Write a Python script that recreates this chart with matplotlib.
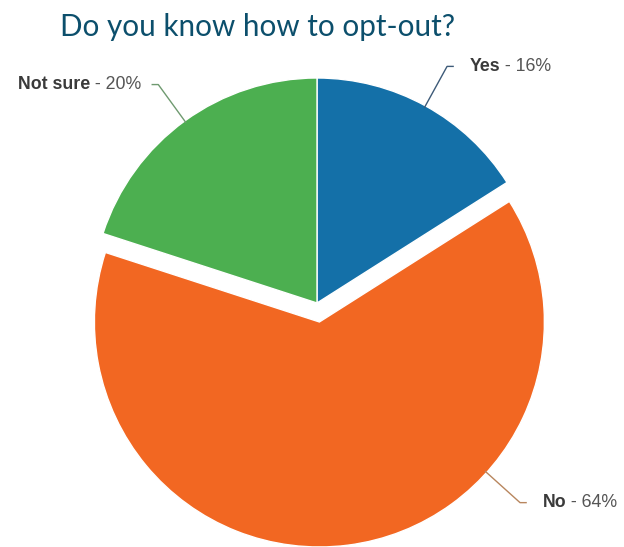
import numpy as np
import matplotlib.pyplot as plt

# survey answers
labels = ['Yes', 'No', 'Not sure']
shares = [16, 64, 20]
colors = ['#1470a8', '#f26722', '#4caf50']
line_colors = ['#3d5a78', '#b8865e', '#6f9a70']

W, H = 624, 547
R = 225.0  # pie radius in pixels
cx_px, cy_px = 317, 303

fig = plt.figure(figsize=(W / 100, H / 100), dpi=100)
ax = fig.add_axes([0, 0, 1, 1])

wedges, _ = ax.pie(shares, colors=colors, startangle=90, counterclock=False,
                   explode=[0, 0.085, 0], radius=1,
                   wedgeprops=dict(edgecolor='white', linewidth=1))
ax.set_aspect('auto')
ax.set_xlim(-cx_px / R, (W - cx_px) / R)
ax.set_ylim(-(H - cy_px) / R, cy_px / R)
ax.axis('off')

# the big slice gets its leader further round so it clears the title side
leader_deg = {1: -42}
fs = 12.8

for i, w in enumerate(wedges):
    deg = leader_deg.get(i, (w.theta1 + w.theta2) / 2)
    a = np.deg2rad(deg)
    c, s = np.cos(a), np.sin(a)
    x0, y0 = w.center
    p0 = (x0 + 0.99 * c, y0 + 0.99 * s)
    p1 = (x0 + 1.2 * c, y0 + 1.2 * s)
    side = 1 if c > 0 else -1
    p2 = (p1[0] + side * 0.03, p1[1])
    ax.plot([p0[0], p1[0], p2[0]], [p0[1], p1[1], p2[1]],
            color=line_colors[i], lw=1, solid_capstyle='butt')
    pct = f' - {shares[i]}%'
    if side > 0:
        tx = p2[0] + 0.07
        t1 = ax.text(tx, p2[1], labels[i], ha='left', va='center',
                     fontsize=fs, weight='bold', color='#3a3a3a',
                     family='Liberation Sans')
        ax.annotate(pct, xy=(1, 0), xycoords=t1, ha='left', va='bottom',
                    fontsize=fs, color='#555555', family='Liberation Sans')
    else:
        tx = p2[0] - 0.045
        t2 = ax.text(tx, p2[1], pct, ha='right', va='center',
                     fontsize=fs, color='#555555', family='Liberation Sans')
        ax.annotate(labels[i], xy=(0, 0), xycoords=t2, ha='right', va='bottom',
                    fontsize=fs, weight='bold', color='#3a3a3a',
                    family='Liberation Sans')

fig.text(257.5 / W, 1 - 36 / H, 'Do you know how to opt-out?', ha='center',
         va='baseline', fontsize=21.3, color='#0c4f6c', family='Lato')

fig.savefig('out.png', dpi=100)
